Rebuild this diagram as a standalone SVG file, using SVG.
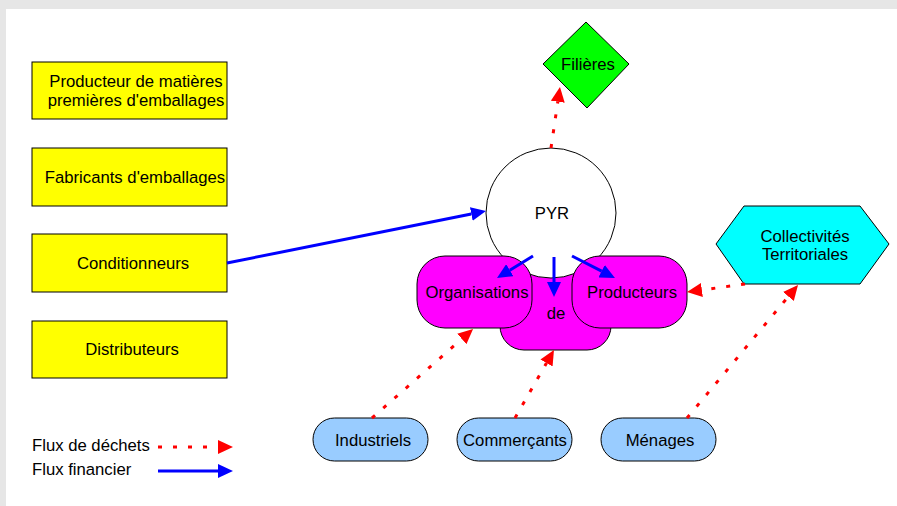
<svg xmlns="http://www.w3.org/2000/svg" width="897" height="506" viewBox="0 0 897 506">
  <style>
    text { font-family: "Liberation Sans", Arial, sans-serif; font-size: 16.7px; fill: #000; text-anchor: middle; dominant-baseline: central; }
    .box { fill: #ffff00; stroke: #000; stroke-width: 1; }
    .mag { fill: #ff00ff; stroke: #000; stroke-width: 1; }
    .actor { fill: #99ccff; stroke: #000; stroke-width: 1; }
    .waste { fill: none; stroke: #ff0000; stroke-width: 3; stroke-dasharray: 4 11; }
    .money { fill: none; stroke: #0000ff; stroke-width: 3; }
  </style>
  <defs>
    <marker id="head-red" markerUnits="userSpaceOnUse" markerWidth="15" markerHeight="14" refX="0" refY="7" orient="auto">
      <path d="M0,0 L15,7 L0,14 Z" fill="#ff0000"/>
    </marker>
    <marker id="head-blue" markerUnits="userSpaceOnUse" markerWidth="15" markerHeight="14" refX="0" refY="7" orient="auto">
      <path d="M0,0 L15,7 L0,14 Z" fill="#0000ff"/>
    </marker>
  </defs>

  <!-- page frame -->
  <rect x="0" y="0" width="897" height="506" fill="#e6e6e6"/>
  <rect x="6" y="9" width="891" height="497" fill="#ffffff"/>

  <!-- packaging chain -->
  <g id="producteur-matieres">
    <rect class="box" x="32" y="62" width="195" height="57"/>
    <text x="136" y="81">Producteur de matières</text>
    <text x="136" y="100">premières d'emballages</text>
  </g>
  <g id="fabricants">
    <rect class="box" x="32" y="148" width="195" height="58"/>
    <text x="135" y="177">Fabricants d'emballages</text>
  </g>
  <g id="conditionneurs">
    <rect class="box" x="32" y="234" width="195" height="58"/>
    <text x="133" y="263">Conditionneurs</text>
  </g>
  <g id="distributeurs">
    <rect class="box" x="32" y="321" width="195" height="57"/>
    <text x="132" y="349">Distributeurs</text>
  </g>

  <!-- producer organisations -->
  <g id="organisations-de-producteurs">
    <rect class="mag" x="500" y="262" width="111" height="88" rx="24" ry="24"/>
  </g>
  <g id="pyr">
    <circle cx="551" cy="213" r="65" fill="#ffffff" stroke="#000" stroke-width="1"/>
    <text x="552" y="213">PYR</text>
  </g>
  <g id="organisations">
    <rect class="mag" x="417" y="256" width="115" height="72" rx="28" ry="28"/>
    <text x="477" y="292">Organisations</text>
  </g>
  <g id="producteurs">
    <rect class="mag" x="572" y="256" width="115" height="72" rx="28" ry="28"/>
    <text x="632" y="292">Producteurs</text>
  </g>
  <g id="de">
    <text x="556" y="313">de</text>
  </g>

  <g id="filieres">
    <polygon points="586,22 629,64 587,108 543,64" fill="#00ff00" stroke="#000" stroke-width="1"/>
    <text x="588" y="64">Filières</text>
  </g>

  <g id="collectivites">
    <polygon points="716,244 744,206 860,206 889,244 860,284 744,284" fill="#00ffff" stroke="#000" stroke-width="1"/>
    <text x="805" y="236">Collectivités</text>
    <text x="805" y="254">Territoriales</text>
  </g>

  <!-- waste producers -->
  <g id="industriels">
    <rect class="actor" x="313" y="418" width="115" height="43" rx="21.5" ry="21.5"/>
    <text x="373" y="440">Industriels</text>
  </g>
  <g id="commercants">
    <rect class="actor" x="457" y="418" width="115" height="43" rx="21.5" ry="21.5"/>
    <text x="515" y="440">Commerçants</text>
  </g>
  <g id="menages">
    <rect class="actor" x="601" y="418" width="115" height="43" rx="21.5" ry="21.5"/>
    <text x="660" y="440">Ménages</text>
  </g>

  <!-- flows -->
  <g id="connectors">
    <path class="money" d="M227,263 L471.3,214" marker-end="url(#head-blue)"/>
    <path class="money" d="M533,256 L509.8,270.2" marker-end="url(#head-blue)"/>
    <path class="money" d="M554,257 L554,282" marker-end="url(#head-blue)"/>
    <path class="money" d="M572,256 L601.6,271.2" marker-end="url(#head-blue)"/>

    <path class="waste" d="M551,148 L557.8,101.8" marker-end="url(#head-red)"/>
    <path class="waste" d="M372,418 L461.8,338.9" marker-end="url(#head-red)"/>
    <path class="waste" d="M515,418 L546.5,363" marker-end="url(#head-red)"/>
    <path class="waste" d="M687,418 L788.4,296.5" marker-end="url(#head-red)"/>
    <path class="waste" d="M745,284 L701.9,290" marker-end="url(#head-red)"/>
  </g>

  <!-- legend -->
  <g id="legend">
    <text x="32" y="445" style="text-anchor:start">Flux de déchets</text>
    <path class="waste" d="M158,447 L218,447" marker-end="url(#head-red)"/>
    <text x="32" y="469" style="text-anchor:start">Flux financier</text>
    <path class="money" d="M158,471 L218,471" marker-end="url(#head-blue)"/>
  </g>
</svg>
